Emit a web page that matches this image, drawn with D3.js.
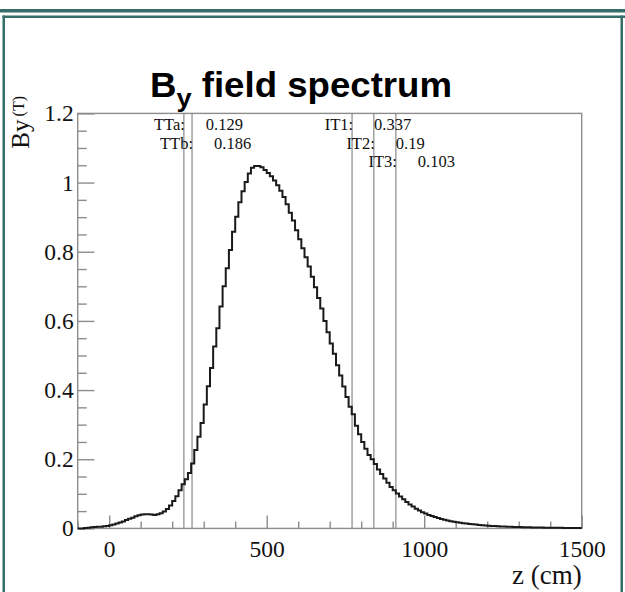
<!DOCTYPE html>
<html>
<head>
<meta charset="utf-8">
<script src="https://cdnjs.cloudflare.com/ajax/libs/d3/7.8.5/d3.min.js"></script>
<style>
	body { margin: 0; background: #fff; }
	svg { display: block; }
</style>
</head>
<body>
<svg width="625" height="592"></svg>
<script>
// histogram: By (T) per 10 cm bin, first bin starts at z = -100 cm
var zStart = -100;
var binWidth = 10;
var byValues = [
	0, 0, 0.001, 0.002, 0.003, 0.004, 0.005, 0.005, 0.006, 0.007,
	0.009, 0.011, 0.014, 0.017, 0.020, 0.024, 0.028, 0.031, 0.035, 0.038,
	0.040, 0.041, 0.041, 0.040, 0.039, 0.041, 0.044, 0.049, 0.056, 0.066,
	0.079, 0.093, 0.110, 0.128, 0.142, 0.160, 0.188, 0.227, 0.265, 0.305,
	0.358, 0.411, 0.464, 0.526, 0.579, 0.642, 0.700, 0.752, 0.805, 0.858,
	0.901, 0.943, 0.975, 1.002, 1.026, 1.043, 1.048, 1.048, 1.044, 1.036,
	1.028, 1.018, 1.006, 0.992, 0.976, 0.958, 0.937, 0.913, 0.890, 0.862,
	0.836, 0.810, 0.784, 0.757, 0.728, 0.697, 0.666, 0.636, 0.600, 0.567,
	0.535, 0.505, 0.472, 0.442, 0.410, 0.380, 0.352, 0.330, 0.297, 0.272,
	0.250, 0.230, 0.212, 0.200, 0.186, 0.170, 0.157, 0.144, 0.132, 0.120,
	0.110, 0.101, 0.092, 0.084, 0.076, 0.069, 0.063, 0.057, 0.052, 0.047,
	0.043, 0.039, 0.036, 0.033, 0.030, 0.027, 0.025, 0.023, 0.021, 0.019,
	0.018, 0.016, 0.015, 0.014, 0.013, 0.012, 0.011, 0.010, 0.0092, 0.0085,
	0.0078, 0.0072, 0.0066, 0.0061, 0.0057, 0.0053, 0.0049, 0.0046, 0.0043, 0.0040,
	0.0037, 0.0035, 0.0033, 0.0031, 0.0029, 0.0027, 0.0025, 0.0024, 0.0022, 0.0021,
	0.0019, 0.0018, 0.0017, 0.0016, 0.0015, 0.0014, 0.0013, 0.0012, 0.0011, 0.0010
];

// detector stations
var stationNames = ["TTa", "TTb", "IT1", "IT2", "IT3"];
var stationZ = [237, 263, 771, 840, 910];
var stationBy = ["0.129", "0.186", "0.337", "0.19", "0.103"];

var xTicks = [0, 500, 1000, 1500];
var yTicks = [0, 0.2, 0.4, 0.6, 0.8, 1, 1.2];

var svg = d3.select("svg");
var teal = "#356d69";
var grey = "#8c8c8c";
var serif = "'Liberation Serif', 'Times New Roman', serif";

// slide border
svg.append("rect").attr("x", 0).attr("y", 9).attr("width", 625).attr("height", 3.5).attr("fill", teal);
svg.append("rect").attr("x", 2.5).attr("y", 15.5).attr("width", 622.5).attr("height", 2.5).attr("fill", teal);
svg.append("rect").attr("x", 2.5).attr("y", 15.5).attr("width", 2.5).attr("height", 577).attr("fill", teal);
svg.append("rect").attr("x", 620.5).attr("y", 15.5).attr("width", 2.5).attr("height", 577).attr("fill", teal);

var frame = {left: 77.7, right: 581.7, top: 113.4, bottom: 528.4};

var x = d3.scaleLinear().domain([-100, 1500]).range([frame.left, frame.right]);
var y = d3.scaleLinear().domain([0, 1.2]).range([frame.bottom, frame.top]);

// title
var title = svg.append("text")
	.attr("x", 150)
	.attr("y", 96.7)
	.attr("font-family", "'Liberation Sans', Arial, sans-serif")
	.attr("font-weight", "bold")
	.attr("font-size", 35)
	.attr("fill", "#000")
	.attr("textLength", 302)
	.attr("lengthAdjust", "spacingAndGlyphs");
title.append("tspan").text("B");
title.append("tspan").attr("font-size", 26).attr("dy", 10).text("y");
title.append("tspan").attr("dy", -10).text(" field spectrum");

// minor ticks
var gxMinor = svg.append("g")
	.attr("transform", "translate(0," + frame.bottom + ")")
	.call(d3.axisBottom(x)
		.tickValues(x.ticks(16).filter(function(d) { return xTicks.indexOf(d) < 0; }))
		.tickSize(-7)
		.tickFormat(""));
var gyMinor = svg.append("g")
	.attr("transform", "translate(" + frame.left + ",0)")
	.call(d3.axisLeft(y)
		.tickValues(y.ticks(24).filter(function(d) { return yTicks.indexOf(+d.toFixed(2)) < 0; }))
		.tickSize(-9)
		.tickFormat(""));

// major ticks + labels
var gx = svg.append("g")
	.attr("transform", "translate(0," + frame.bottom + ")")
	.call(d3.axisBottom(x)
		.tickValues(xTicks)
		.tickSize(-13)
		.tickPadding(12)
		.tickFormat(d3.format("d")));
var gy = svg.append("g")
	.attr("transform", "translate(" + frame.left + ",0)")
	.call(d3.axisLeft(y)
		.tickValues(yTicks)
		.tickSize(-16.7)
		.tickPadding(4)
		.tickFormat(d3.format("~g")));

[gxMinor, gyMinor, gx, gy].forEach(function(g) {
	g.select(".domain").remove();
	g.selectAll(".tick line").attr("stroke", grey).attr("stroke-width", 1.4);
	g.attr("font-family", serif).attr("font-size", 23.5);
	g.selectAll(".tick text").attr("fill", "#111");
});

// station lines
var stations = svg.append("g");
stations.selectAll("line")
	.data(stationZ)
	.enter().append("line")
		.attr("x1", function(d) { return x(d); })
		.attr("x2", function(d) { return x(d); })
		.attr("y1", frame.top)
		.attr("y2", frame.bottom)
		.attr("stroke", "#9a9a9a")
		.attr("stroke-width", 1.4);

// frame
svg.append("rect")
	.attr("x", frame.left)
	.attr("y", frame.top)
	.attr("width", frame.right - frame.left)
	.attr("height", frame.bottom - frame.top)
	.attr("fill", "none")
	.attr("stroke", grey)
	.attr("stroke-width", 1.4);

// histogram
var pts = byValues.map(function(v, i) { return [zStart + i * binWidth, v]; });
pts.push([zStart + byValues.length * binWidth, byValues[byValues.length - 1]]);

var line = d3.line()
	.x(function(d) { return x(d[0]); })
	.y(function(d) { return y(d[1]); })
	.curve(d3.curveStepAfter);

svg.append("path")
	.datum(pts)
	.attr("d", line)
	.attr("fill", "none")
	.attr("stroke", "#1a1a1a")
	.attr("stroke-width", 2);

// station labels
var rows = [0, 1, 0, 1, 2];
stationNames.forEach(function(name, i) {
	var lx = x(stationZ[i]);
	var ly = 130 + rows[i] * 18.5;
	svg.append("text")
		.attr("x", lx + 1)
		.attr("y", ly)
		.attr("text-anchor", "end")
		.attr("font-family", serif)
		.attr("font-size", 16.5)
		.attr("fill", "#111")
		.text(name + ":");
	svg.append("text")
		.attr("x", lx + 22)
		.attr("y", ly)
		.attr("font-family", serif)
		.attr("font-size", 16.5)
		.attr("fill", "#111")
		.text(stationBy[i]);
});

// axis titles
svg.append("text")
	.attr("x", frame.right)
	.attr("y", 584)
	.attr("text-anchor", "end")
	.attr("font-family", serif)
	.attr("font-size", 27)
	.attr("fill", "#111")
	.text("z (cm)");

var ytitle = svg.append("text")
	.attr("transform", "translate(29,96) rotate(-90)")
	.attr("text-anchor", "end")
	.attr("font-family", serif)
	.attr("font-size", 25)
	.attr("fill", "#111");
ytitle.append("tspan").text("By");
ytitle.append("tspan").attr("font-size", 16).attr("dx", 3).attr("dy", -5).text("(T)");
</script>
</body>
</html>
